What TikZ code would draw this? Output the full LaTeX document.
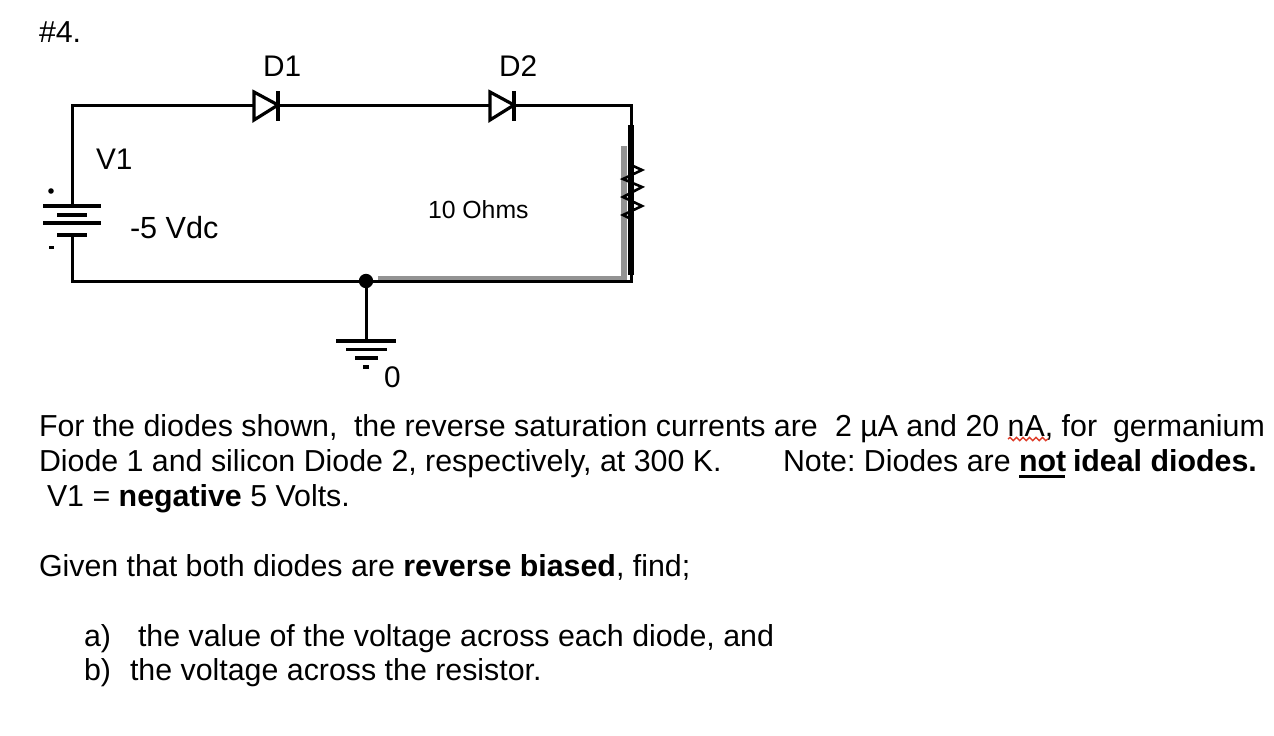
\documentclass[tikz,border=0pt]{standalone}
\usepackage{fontspec}
\setmainfont{Liberation Sans}
\usetikzlibrary{decorations.pathmorphing}
\frenchspacing
\tikzset{
 wire/.style={draw=black,line width=3pt,line join=miter},
 part/.style={draw=black,line width=3.2pt},
 body/.style={anchor=base west,inner sep=0pt,outer sep=0pt,font=\fontsize{30.35}{35}\selectfont},
 label/.style={anchor=base west,inner sep=0pt,outer sep=0pt,font=\fontsize{29.8}{33}\selectfont},
 vdc/.style={anchor=base west,inner sep=0pt,outer sep=0pt,font=\fontsize{30.6}{33}\selectfont},
 small/.style={anchor=base west,inner sep=0pt,outer sep=0pt,font=\fontsize{24.8}{28}\selectfont},
 spell/.style={draw={rgb,255:red,222;green,60;blue,40},line width=1.4pt,decorate,decoration={snake,amplitude=1.6pt,segment length=6.5pt}}
}
\begin{document}
\begin{tikzpicture}[x=1pt,y=-1pt]
\useasboundingbox (0,0) rectangle (1274,736);
% junction coordinates
\coordinate (tl) at (72,105);
\coordinate (tr) at (631,105);
\coordinate (bl) at (72,281);
\coordinate (br) at (631,281);
\coordinate (batT) at (72,206);
\coordinate (batB) at (72,235);
\coordinate (d1a) at (254,105);
\coordinate (d1k) at (278,105);
\coordinate (d2a) at (489,105);
\coordinate (d2k) at (514,105);
\coordinate (resT) at (631,125);
\coordinate (resB) at (631,275);
\coordinate (gnd) at (366,281);
\coordinate (gndP) at (366,341);
% gray shadow of resistor
\fill[gray!85] (621,146) rectangle (627,281);
\fill[gray!85] (378,275.5) rectangle (627,281);
% wires
\draw[wire] (d1a) -- (tl) -- (batT);
\draw[wire] (batB) -- (bl) -- (gnd);
\draw[wire] (d1k) -- (d2a);
\draw[wire] (d2k) -- (tr) -- (resT);
\draw[wire] (resB) -- (br) -- (gnd);
\draw[wire] (gnd) -- (gndP);
\fill (gnd) circle (7.2);
% diodes
\draw[part,line join=miter] (254,92) -- (278,105) -- (254,120) -- cycle;
\draw[part] (278,91) -- (278,121);
\draw[part,line join=miter] (490,92) -- (514,105) -- (490,120) -- cycle;
\draw[part] (514,91) -- (514,121);
% battery
\draw[part] (43,206) -- (101,206);
\draw[part] (57,215) -- (87,215);
\draw[part] (43,223) -- (101,223);
\draw[part] (57,235) -- (87,235);
\fill (51,191) circle (2.8);
\fill (48.5,245.5) rectangle (54,248.5);
% resistor
\draw[draw=black,line width=5.5pt] (resT) -- (resB);
\draw[part,line width=2.6pt] (631,165) -- (642,170) -- (623,179) -- (642,187) -- (623,197) -- (642,206) -- (623,215) -- (631,219);
% ground
\draw[part] (336,341) -- (396,341);
\draw[part] (346,349.5) -- (387,349.5);
\draw[part] (355,358) -- (378,358);
\draw[part] (363,367) -- (369,367);
% labels
\node[body] (title) at (39,42) {\#4.};
\node[label] (lD1) at (263,76) {D1};
\node[label] (lD2) at (499,76) {D2};
\node[label] (lV1) at (96,169) {V1};
\node[vdc] (lV) at (130,238) {-5 Vdc};
\node[small] (lR) at (428,218) {10 Ohms};
\node[label] (lG) at (384,387) {0};
% text
\node[body] (t1a) at (39,436) {For the diodes shown,};
\node[body] (t1b) at (354,436) {the reverse saturation currents are};
\node[body] (t1c) at (835,436) {2 µA and 20 nA, for};
\node[body] (t1d) at (1113,436) {germanium};
\node[body] (t2a) at (39,471) {Diode 1 and silicon Diode 2, respectively, at 300 K.};
\node[body] (t2b) at (783,471) {Note: Diodes are};
\node[body] (t2c) at (1019,471) {\textbf{not}};
\node[body] (t2d) at (1073,471) {\textbf{ideal diodes.}};
\node[body] (t3) at (47,506) {V1 = \textbf{negative} 5 Volts.};
\node[body] (t4) at (39,576) {Given that both diodes are \textbf{reverse biased}, find;};
\node[body] (t5a) at (84,646) {a)};
\node[body] (t5b) at (138,646) {the value of the voltage across each diode, and};
\node[body] (t6a) at (84,680) {b)};
\node[body] (t6b) at (130,680) {the voltage across the resistor.};
% underline and spell mark
\fill (1019,474.5) rectangle (1065,477.5);
\coordinate (sp1) at (1008,439);
\coordinate (sp2) at (1048,439);
\draw[spell] (sp1) -- (sp2);
\end{tikzpicture}
\end{document}
